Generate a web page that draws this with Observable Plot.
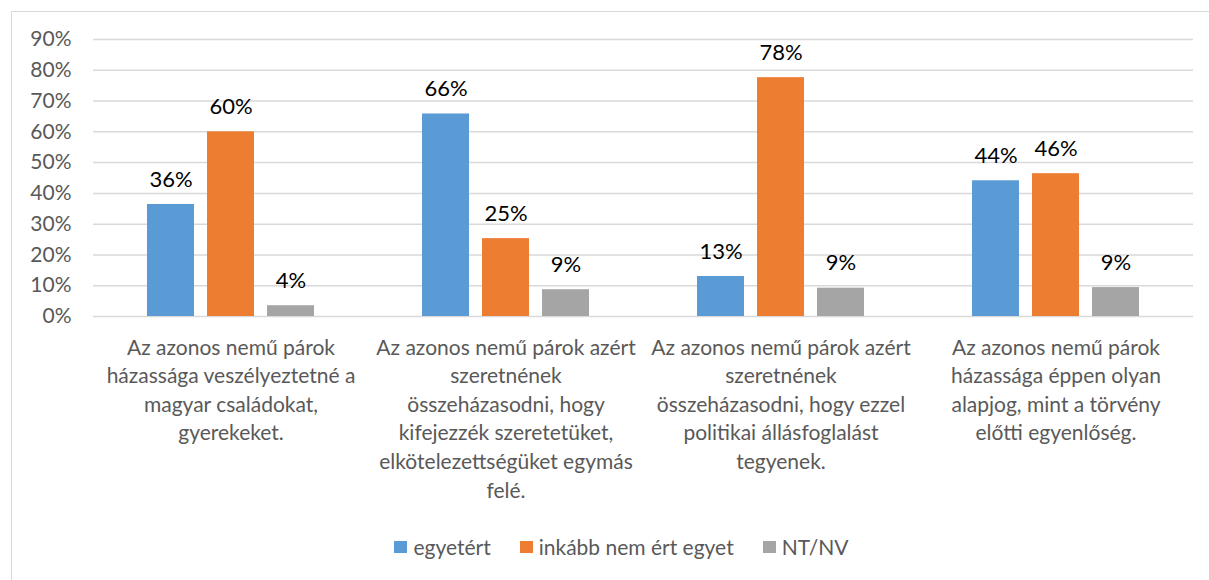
<!DOCTYPE html>
<html><head><meta charset="utf-8">
<script src="https://cdn.jsdelivr.net/npm/d3@7"></script>
<script src="https://cdn.jsdelivr.net/npm/@observablehq/plot@0.6"></script>
<style>
body{margin:0;background:#fff;font-family:Lato,"Open Sans",sans-serif;overflow:hidden;}
#frame{position:absolute;left:11px;top:11px;width:1400px;height:800px;border:1px solid #d9d9d9;}
#chart{position:absolute;left:0;top:0;}
#legend{position:absolute;top:534px;left:0;width:1243px;display:flex;justify-content:center;gap:29px;font-size:21px;color:#595959;}
#legend .item{display:flex;align-items:center;gap:6px;}
#legend .sw{display:inline-block;width:13px;height:12px;}
</style></head><body>
<div id="frame"></div><div id="chart"></div><div id="legend"></div>
<script>
const categories = [
  "Az azonos nemű párok\nházassága veszélyeztetné a\nmagyar családokat,\ngyerekeket.",
  "Az azonos nemű párok azért\nszeretnének\nösszeházasodni, hogy\nkifejezzék szeretetüket,\nelkötelezettségüket egymás\nfelé.",
  "Az azonos nemű párok azért\nszeretnének\nösszeházasodni, hogy ezzel\npolitikai állásfoglalást\ntegyenek.",
  "Az azonos nemű párok\nházassága éppen olyan\nalapjog, mint a törvény\nelőtti egyenlőség."
];
const series = ["egyetért", "inkább nem ért egyet", "NT/NV"];
const colors = ["#5b9bd5", "#ed7d31", "#a5a5a5"];
const agree = [36.4, 65.8, 13.0, 44.1];
const disagree = [60.0, 25.3, 77.6, 46.4];
const dontKnow = [3.5, 8.7, 9.2, 9.4];
const yTicks = [0, 10, 20, 30, 40, 50, 60, 70, 80, 90];

const valuesBySeries = [agree, disagree, dontKnow];
const rows = [];
categories.forEach((c, i) => {
  series.forEach((s, j) => {
    const v = valuesBySeries[j][i];
    rows.push({cat: c, series: s, value: v, label: Math.round(v) + "%"});
  });
});

const chart = Plot.plot({
  width: 1209,
  height: 520,
  marginLeft: 91,
  marginRight: 15,
  marginTop: 39,
  marginBottom: 204,
  style: {fontFamily: "Lato, 'Open Sans', sans-serif", background: "transparent"},
  fx: {domain: categories, padding: 0, axis: null},
  x: {domain: series, paddingInner: 0.213, paddingOuter: 0.867, axis: null},
  y: {domain: [0, 90], axis: null},
  color: {domain: series, range: colors},
  marks: [
    Plot.gridY(yTicks, {stroke: "#d9d9d9", strokeOpacity: 1, strokeWidth: 1.5}),
    Plot.axisY(yTicks, {tickSize: 0, tickPadding: 22, tickFormat: d => d + "%", fontSize: 21, fill: "#595959", label: null}),
    Plot.axisFx({anchor: "bottom", tickSize: 0, tickPadding: 18, fontSize: 21, lineHeight: 1.36, fill: "#595959", label: null}),
    Plot.barY(rows, {fx: "cat", x: "series", y: "value", fill: "series"}),
    Plot.text(rows, {fx: "cat", x: "series", y: "value", text: "label", dy: -25, fontSize: 22, fill: "#000"})
  ]
});
document.getElementById("chart").appendChild(chart);

const legend = document.getElementById("legend");
series.forEach((s, j) => {
  const item = document.createElement("div");
  item.className = "item";
  const sw = document.createElement("span");
  sw.className = "sw";
  sw.style.background = colors[j];
  const t = document.createElement("span");
  t.textContent = s;
  item.appendChild(sw); item.appendChild(t);
  legend.appendChild(item);
});
</script>
</body></html>
